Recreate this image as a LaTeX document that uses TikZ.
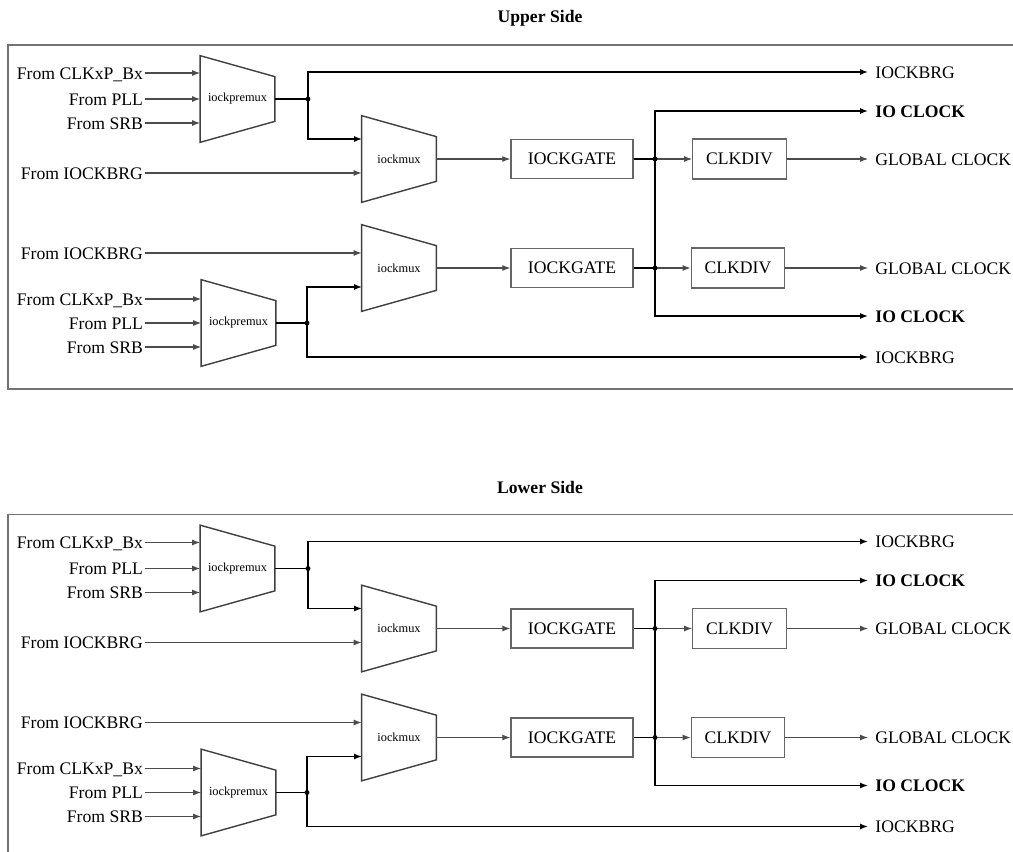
\documentclass[tikz,border=0pt]{standalone}
\usepackage{fontspec}
\setmainfont{Liberation Serif}
\usetikzlibrary{arrows.meta,calc}

\begin{document}
\begin{tikzpicture}[
      x=0.5669pt, y=-0.5669pt,
      font=\fontsize{10}{12}\selectfont,
      >={Latex[length=4.5pt,width=3.4pt]},
      title/.style={font=\fontsize{10}{12}\selectfont\bfseries},
      inlabel/.style={anchor=east, inner sep=1pt, text height=7pt, text depth=0pt},
      outlabel/.style={anchor=west, inner xsep=4pt, inner ysep=0pt,
                       text height=7pt, text depth=0pt},
      mux/.style={minimum width=42pt, minimum height=48.75pt, inner sep=0pt,
                  font=\fontsize{7}{8}\selectfont},
      muxline/.style={draw=black!75, line width=.8pt, line join=miter},
      box/.style={draw=black!60, line width=.8pt, minimum width=69.2pt,
                  minimum height=22.1pt, inner sep=0pt},
      divbox/.style={box, minimum width=53pt, minimum height=22.7pt},
      frame/.style={draw=black!55, line width=1.1pt},
      flow/.style={draw=black!70, line width=.6pt, ->},
      bus/.style={draw=black, line width=.8pt}
    ]
    \useasboundingbox (0,0) rectangle (1013,852);
    \clip (0,0) rectangle (1013,852);

    % Both sides share the same layout, shifted down.
    \foreach \s/\side/\dy in {u/Upper Side/0, l/Lower Side/469.5} {
    \begin{scope}[shift={(0,\dy)}]
    \node[title] (title\s) at (540,18) {\side};
    \draw[frame] (8,45) rectangle (1030,389);

    % First clock path.
    \node[inlabel] (clk1\s) at (145,73) {From CLKxP\_Bx};
    \node[inlabel] (pll1\s) at (145,99) {From PLL};
    \node[inlabel] (srb1\s) at (145,123) {From SRB};
    \node[inlabel] (fbrg1\s) at (145,173) {From IOCKBRG};
    \node[mux] (pre1\s) at (237.5,99) {iockpremux};
    \node[mux] (mux1\s) at (399,159) {iockmux};
    \node[box] (gate1\s) at (572,159) {IOCKGATE};
    \node[divbox] (div1\s) at (739.5,159) {CLKDIV};
    \coordinate (j1\s) at (308,99);
    \coordinate (in1\s) at (362,139);
    \coordinate (k1\s) at (655,159);
    \node[outlabel] (brg1\s) at (868,72) {IOCKBRG};
    \node[outlabel, font=\fontsize{10}{12}\selectfont\bfseries] (io1\s) at (868,111) {IO CLOCK};
    \node[outlabel] (glob1\s) at (868,159) {GLOBAL CLOCK};

    % Second clock path.
    \node[inlabel] (fbrg2\s) at (145,253) {From IOCKBRG};
    \node[inlabel] (clk2\s) at (145,299) {From CLKxP\_Bx};
    \node[inlabel] (pll2\s) at (145,323) {From PLL};
    \node[inlabel] (srb2\s) at (145,347) {From SRB};
    \node[mux] (pre2\s) at (238.5,323) {iockpremux};
    \node[mux] (mux2\s) at (399,268) {iockmux};
    \node[box] (gate2\s) at (572,268) {IOCKGATE};
    \node[divbox] (div2\s) at (738,268) {CLKDIV};
    \coordinate (j2\s) at (307,323);
    \coordinate (in2\s) at (362,287);
    \coordinate (k2\s) at (655,268);
    \node[outlabel] (glob2\s) at (868,268) {GLOBAL CLOCK};
    \node[outlabel, font=\fontsize{10}{12}\selectfont\bfseries] (io2\s) at (868,316) {IO CLOCK};
    \node[outlabel] (brg2\s) at (868,357) {IOCKBRG};

    % Mux outlines.
    \foreach \m in {pre1,mux1,pre2,mux2}
      \draw[muxline] (\m\s.north west) -- ($(\m\s.north east)+(0,21)$)
        -- ($(\m\s.south east)+(0,-21)$) -- (\m\s.south west) -- cycle;

    % Connections.
    \foreach \p in {clk1,pll1,srb1}
      \draw[flow] (\p\s.east) -- (\p\s.east -| pre1\s.west);
    \foreach \p in {clk2,pll2,srb2}
      \draw[flow] (\p\s.east) -- (\p\s.east -| pre2\s.west);
    \draw[flow] (fbrg1\s.east) -- (fbrg1\s.east -| mux1\s.west);
    \draw[flow] (fbrg2\s.east) -- (fbrg2\s.east -| mux2\s.west);
    \draw[bus] (pre1\s.east) -- (j1\s);
    \draw[bus, ->] (j1\s) |- (brg1\s.west);
    \draw[bus, ->] (j1\s) |- (in1\s);
    \draw[bus] (pre2\s.east) -- (j2\s);
    \draw[bus, ->] (j2\s) |- (in2\s);
    \draw[bus, ->] (j2\s) |- (brg2\s.west);
    \draw[flow] (mux1\s) -- (gate1\s);
    \draw[flow] (mux2\s) -- (gate2\s);
    \draw[bus] (gate1\s) -- (k1\s);
    \draw[bus] (gate2\s) -- (k2\s);
    \draw[flow] (k1\s) -- (div1\s);
    \draw[flow] (k2\s) -- (div2\s);
    \draw[flow] (div1\s) -- (glob1\s);
    \draw[flow] (div2\s) -- (glob2\s);
    \draw[bus, ->] (k1\s) |- (io1\s.west);
    \draw[bus] (k1\s) -- (k2\s);
    \draw[bus, ->] (k2\s) |- (io2\s.west);
    \foreach \d in {j1,j2,k1,k2}
      \fill (\d\s) circle[radius=1.4pt];
    \end{scope}
    }
  \end{tikzpicture}
\end{document}
